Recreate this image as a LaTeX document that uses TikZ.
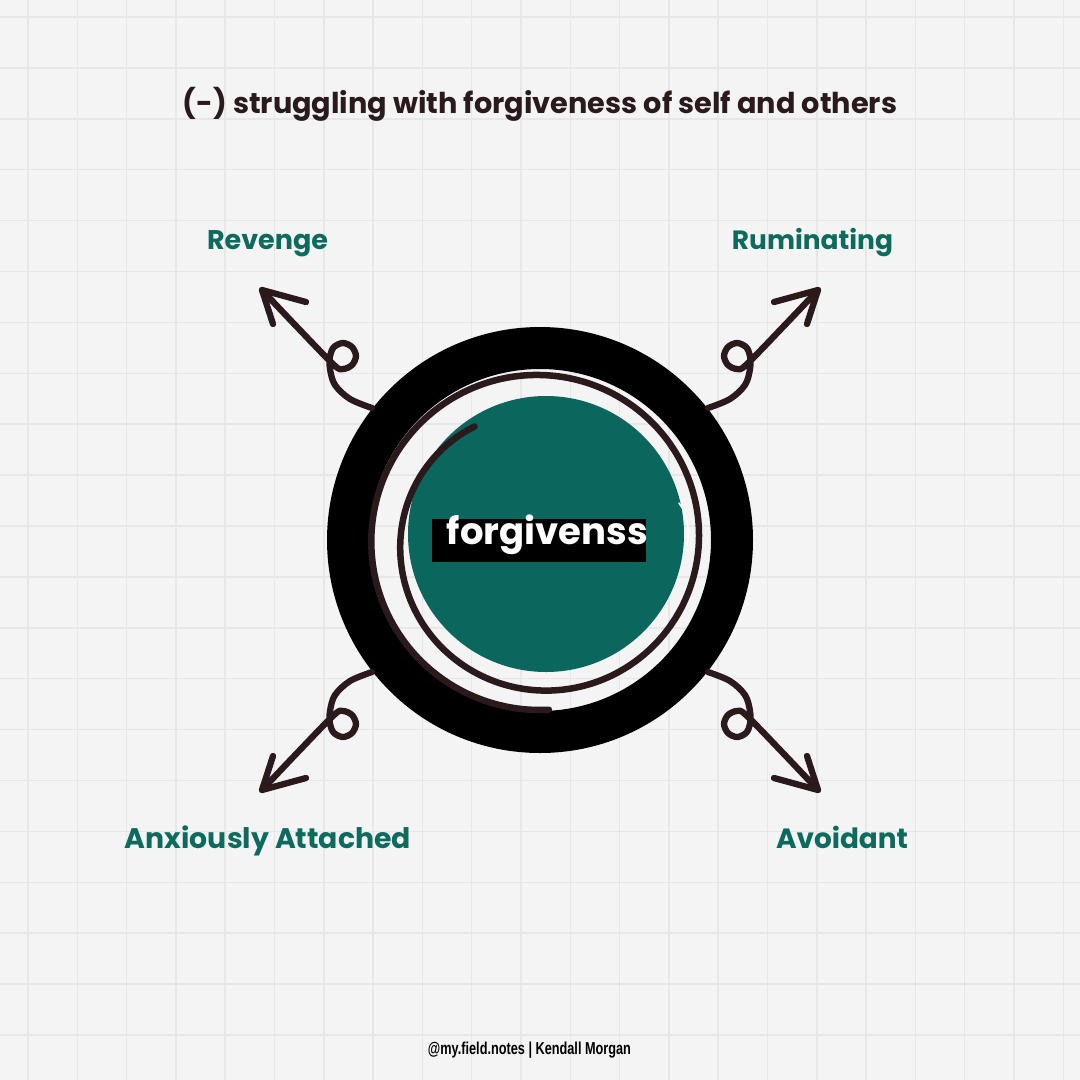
\documentclass[tikz,border=0pt]{standalone}
\usepackage{fontspec}
\usepackage{graphicx}
\setmainfont{Poppins}
\newfontfamily\footfont{Liberation Sans}
\definecolor{bg}{HTML}{F4F4F4}
\definecolor{gridc}{HTML}{E7E7E7}
\definecolor{ink}{HTML}{2A1A1C}
\definecolor{tealtxt}{HTML}{0C6B5D}
\definecolor{tealfill}{HTML}{0B675D}
\tikzset{
  gridline/.style={draw=gridc, line width=1.5pt},
  curl/.style={draw=ink, line width=6.3pt, line cap=round, line join=round},
  lab/.style={anchor=base, inner sep=0pt, text=tealtxt, font=\bfseries},
  curlyarrow/.pic={
    \draw[curl] plot[smooth, tension=0.55] coordinates {(262,290) (298,328) (334,365) (343,369) (352,365) (356,356) (352,347) (343,343) (334,347) (330,356) (330,369) (335,385) (350,399) (372,408)};
    \draw[curl] (306,302) -- (262,290) -- (273,324);
  }
}
\begin{document}
\begin{tikzpicture}[x=1pt,y=-1pt]
\useasboundingbox (0,0) rectangle (1080,1080);
\fill[bg] (0,0) rectangle (1080,1080);
\foreach \i in {0,...,21} \draw[gridline] ({28+49.3*\i},0) -- ++(0,1080);
\foreach \j in {0,...,21} \draw[gridline] (0,{17+50.9*\j}) -- ++(1080,0);
% ring
\fill[black,even odd rule] (540,540) circle[radius=213] (540,540) circle[radius=171];
% teal disc
\fill[tealfill] (546,534) circle[radius=138];
\draw[white, line width=1.5pt, line cap=round] (679,503) .. controls (688,515) and (690,530) .. (687,545);
% spiral
\draw[ink, line width=6.5pt, line cap=round] plot[domain=120:633, samples=140, smooth]
  ({540+(131+39*(1-((633-\x)/513)^2))*cos(\x)}, {540-(131+39*(1-((633-\x)/513)^2))*sin(\x)});
% arrows
\pic at (0,0) {curlyarrow};
\pic[xscale=-1] at (1080,0) {curlyarrow};
\pic[yscale=-1] at (0,1080) {curlyarrow};
\pic[xscale=-1,yscale=-1] at (1080,1080) {curlyarrow};
% center label
\fill[black] (432,519) rectangle (646,562);
\node[anchor=base, inner sep=0pt, text=white, font=\bfseries] (center) at (547.5,544) {\resizebox{201pt}{!}{forgivenss}};
% title
\node[anchor=base, inner sep=0pt, text=ink, font=\bfseries] (title) at (540,113) {\resizebox{714pt}{!}{(-) struggling with forgiveness of self and others}};
% labels
\node[lab] (revenge) at (267.5,249) {\resizebox{121pt}{!}{Revenge}};
\node[lab] (rumin) at (812.5,249) {\resizebox{161pt}{!}{Ruminating}};
\node[lab] (anx) at (268,848) {\resizebox{286pt}{!}{Anxiously Attached}};
\node[lab] (avoid) at (842,848) {\resizebox{132pt}{!}{Avoidant}};
% footer
\node[anchor=base, inner sep=0pt, text=black] (foot) at (529.5,1054) {\footfont\bfseries\resizebox{203pt}{12.5pt}{@my.field.notes | Kendall Morgan}};
\end{tikzpicture}
\end{document}
